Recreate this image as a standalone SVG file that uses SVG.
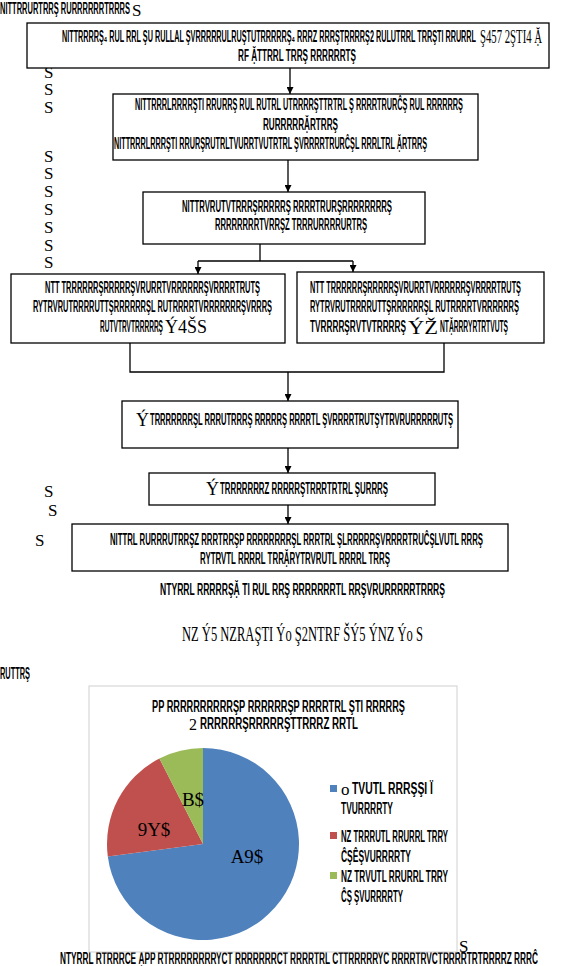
<svg xmlns="http://www.w3.org/2000/svg" width="568" height="966" viewBox="0 0 568 966">
<defs>
<style>
.t{font-family:"Liberation Sans Narrow","Liberation Sans",sans-serif;font-size:16px;font-weight:bold;fill:#000}
.s{font-family:"Liberation Serif",serif;font-size:18px;fill:#000}
.b{fill:#fff;stroke:#000;stroke-width:1.3}
.c{fill:none;stroke:#000;stroke-width:1.3}
.pm{font-family:"Liberation Serif",serif;font-size:17px;fill:#000}
</style>
<marker id="ah" viewBox="0 0 10 10" refX="10" refY="5" markerWidth="7" markerHeight="7" orient="auto" markerUnits="userSpaceOnUse">
<path d="M0,0 L10,5 L0,10 Z" fill="#000"/>
</marker>
</defs>
<rect width="568" height="966" fill="#fff"/>

<g id="heading">
<text class="t" x="0" y="14" textLength="130" lengthAdjust="spacingAndGlyphs">NITTRRURTRRŞ RURRRRRRTRRRS</text>
<text class="pm" x="132" y="16">S</text>
</g>

<g id="marks">
<text class="pm" x="44" y="78">S</text>
<text class="pm" x="44" y="95">S</text>
<text class="pm" x="44" y="113">S</text>
<text class="pm" x="44" y="162">S</text>
<text class="pm" x="44" y="179">S</text>
<text class="pm" x="44" y="197">S</text>
<text class="pm" x="44" y="215">S</text>
<text class="pm" x="44" y="233">S</text>
<text class="pm" x="44" y="251">S</text>
<text class="pm" x="44" y="268">S</text>
<text class="pm" x="44" y="497">S</text>
<text class="pm" x="48" y="516">S</text>
<text class="pm" x="35" y="546">S</text>
<text class="pm" x="459" y="952">S</text>
</g>

<g id="connectors">
<line class="c" x1="290" y1="68" x2="290" y2="94" marker-end="url(#ah)"/>
<line class="c" x1="288" y1="160" x2="288" y2="192" marker-end="url(#ah)"/>
<polyline class="c" points="260,244 260,261"/>
<polyline class="c" points="198,261 353,261"/>
<line class="c" x1="198" y1="261" x2="198" y2="274" marker-end="url(#ah)"/>
<line class="c" x1="353" y1="261" x2="353" y2="272" marker-end="url(#ah)"/>
<polyline class="c" points="130,343 130,372 444,372 444,343"/>
<line class="c" x1="288" y1="372" x2="288" y2="401" marker-end="url(#ah)"/>
<line class="c" x1="288" y1="448" x2="288" y2="473" marker-end="url(#ah)"/>
<line class="c" x1="288" y1="505" x2="288" y2="524" marker-end="url(#ah)"/>
</g>

<g id="box1">
<rect class="b" x="27" y="23" width="522" height="45"/>
<text class="t" x="62" y="42" textLength="414" lengthAdjust="spacingAndGlyphs">NITTRRRRŞ₄ RUL RRL ŞU RULLAL ŞVRRRRRULRUŞTUTRRRRRŞ₄ RRRZ RRRŞTRRRRŞ2 RULUTRRL TRRŞTI RRURRL</text>
<text class="s" x="480" y="43" textLength="62" lengthAdjust="spacingAndGlyphs">Ş457 2ŞTI4 Ặ</text>
<text class="t" x="238" y="61" textLength="118" lengthAdjust="spacingAndGlyphs">RF ẶTTRRL TRRŞ RRRRRRTŞ</text>
</g>

<g id="box2">
<rect class="b" x="113" y="94" width="365" height="66"/>
<text class="t" x="135" y="110" textLength="328" lengthAdjust="spacingAndGlyphs">NITTRRRLRRRRŞTI RRURRŞ RUL RUTRL UTRRRRŞTTRTRL Ş RRRRTRURĈŞ RUL RRRRRRŞ</text>
<text class="t" x="263" y="130" textLength="75" lengthAdjust="spacingAndGlyphs">RURRRRRẶRTRRŞ</text>
<text class="t" x="114" y="149" textLength="313" lengthAdjust="spacingAndGlyphs">NITTRRRLRRRŞTI RRURŞRUTRLTVURRTVUTRTRL ŞVRRRRTRURĈŞL RRRLTRL ẶRTRRŞ</text>
</g>

<g id="box3">
<rect class="b" x="143" y="192" width="282" height="52"/>
<text class="t" x="182" y="212" textLength="210" lengthAdjust="spacingAndGlyphs">NITTRVRUTVTRRRŞRRRRRŞ RRRRTRURŞRRRRRRRRŞ</text>
<text class="t" x="215" y="230" textLength="152" lengthAdjust="spacingAndGlyphs">RRRRRRRRTVRRŞZ TRRRURRRRURTRŞ</text>
</g>

<g id="box4a">
<rect class="b" x="11" y="274" width="274" height="69"/>
<text class="t" x="45" y="293" textLength="215" lengthAdjust="spacingAndGlyphs">NTT TRRRRRRŞRRRRRŞVRURRTVRRRRRRŞVRRRRTRUTŞ</text>
<text class="t" x="33" y="312" textLength="239" lengthAdjust="spacingAndGlyphs">RYTRVRUTRRRRUTTŞRRRRRRŞL RUTRRRRTVRRRRRRRŞVRRRŞ</text>
<text class="t" x="100" y="332" textLength="63" lengthAdjust="spacingAndGlyphs">RUTVTRVTRRRRRŞ</text>
<text class="s" x="165" y="333" textLength="42" lengthAdjust="spacingAndGlyphs">Ý4ŠS</text>
</g>

<g id="box4b">
<rect class="b" x="297" y="272" width="247" height="71"/>
<text class="t" x="310" y="293" textLength="211" lengthAdjust="spacingAndGlyphs">NTT TRRRRRRŞRRRRRŞVRURRTVRRRRRRŞVRRRRTRUTŞ</text>
<text class="t" x="310" y="312" textLength="209" lengthAdjust="spacingAndGlyphs">RYTRVRUTRRRRUTTŞRRRRRRŞL RUTRRRRTVRRRRRRŞ</text>
<text class="t" x="310" y="332" textLength="96" lengthAdjust="spacingAndGlyphs">TVRRRRŞRVTVTRRRRŞ</text>
<text class="s" x="408" y="334" textLength="30" lengthAdjust="spacingAndGlyphs">ÝŽ</text>
<text class="t" x="440" y="332" textLength="68" lengthAdjust="spacingAndGlyphs">NTẶRRRYRTRTVUTŞ</text>
</g>

<g id="box5">
<rect class="b" x="122" y="401" width="336" height="47"/>
<text class="s" x="136" y="426">Ý</text>
<text class="t" x="150" y="425" textLength="303" lengthAdjust="spacingAndGlyphs">TRRRRRRRŞL RRRUTRRRŞ RRRRRŞ RRRRTL ŞVRRRRTRUTŞYTRVRURRRRRUTŞ</text>
</g>

<g id="box6">
<rect class="b" x="149" y="473" width="286" height="32"/>
<text class="s" x="206" y="495">Ý</text>
<text class="t" x="220" y="494" textLength="168" lengthAdjust="spacingAndGlyphs">TRRRRRRRZ RRRRRŞTRRRTRTRL ŞURRRŞ</text>
</g>

<g id="box7">
<rect class="b" x="72" y="524" width="436" height="47"/>
<text class="t" x="110" y="545" textLength="373" lengthAdjust="spacingAndGlyphs">NITTRL RURRRUTRRŞZ RRRTRRŞP RRRRRRRRŞL RRRTRL ŞLRRRRRŞVRRRRTRUĈŞLVUTL RRRŞ</text>
<text class="t" x="200" y="564" textLength="190" lengthAdjust="spacingAndGlyphs">RYTRVTL RRRRL TRRẶRYTRVRUTL RRRRL TRRŞ</text>
</g>

<g id="notes">
<text class="t" x="160" y="595" textLength="285" lengthAdjust="spacingAndGlyphs">NTYRRL RRRRRŞẶ TI RUL RRŞ RRRRRRRTL RRŞVRURRRRRTRRRŞ</text>
<text class="s" x="182" y="641" textLength="241" lengthAdjust="spacingAndGlyphs" style="font-size:20px">NZ Ý5 NZRAŞTI Ýo Ş2NTRF ŠÝ5 ÝNZ Ýo S</text>
<text class="t" x="0" y="679" textLength="30" lengthAdjust="spacingAndGlyphs">RUTTRŞ</text>
<text class="t" x="60" y="964" textLength="478" lengthAdjust="spacingAndGlyphs">NTYRRL RTRRRĈÊ ẶPP RTRRRRRRRRYCT RRRRRRRCT RRRRTRL ĈTTRRRRRYĈ RRRRTRVCTRRRRTRTRRRRZ RRRĈ</text>
</g>

<g id="chart">
<rect x="89" y="686" width="368" height="266" fill="#fff" stroke="#d0d0d0" stroke-width="1"/>
<text class="t" x="152" y="712" textLength="253" lengthAdjust="spacingAndGlyphs">PP RRRRRRRRRRŞP RRRRRRŞP RRRRTRL ŞTI RRRRRŞ</text>
<text class="s" x="189" y="730" style="font-size:16px">2</text>
<text class="t" x="200" y="729" textLength="158" lengthAdjust="spacingAndGlyphs">RRRRRRŞRRRRRŞTTRRRZ RRTL</text>
<path d="M203,844 L203,748 A96,96 0 1 1 107.8,856.4 Z" fill="#4f81bd"/>
<path d="M203,844 L107.8,856.4 A96,96 0 0 1 159.4,758.5 Z" fill="#c0504d"/>
<path d="M203,844 L159.4,758.5 A96,96 0 0 1 203,748 Z" fill="#9bbb59"/>
<text class="s" x="193" y="806" text-anchor="middle" style="font-size:19px">B$</text>
<text class="s" x="154" y="836" text-anchor="middle" style="font-size:19px">9Y$</text>
<text class="s" x="247" y="863" text-anchor="middle" style="font-size:19px">A9$</text>
<rect x="330" y="785" width="7" height="7" fill="#4f81bd"/>
<text class="s" x="341" y="795" style="font-size:17px">o</text>
<text class="t" x="352" y="794" textLength="81" lengthAdjust="spacingAndGlyphs">TVUTL RRRŞŞI Ï</text>
<text class="t" x="341" y="814" textLength="52" lengthAdjust="spacingAndGlyphs">TVURRRRTY</text>
<rect x="330" y="832" width="7" height="7" fill="#c0504d"/>
<text class="t" x="341" y="842" textLength="107" lengthAdjust="spacingAndGlyphs">NZ TRRRUTL RRURRL TRRY</text>
<text class="t" x="341" y="862" textLength="70" lengthAdjust="spacingAndGlyphs">ĈŞÊŞVURRRRTY</text>
<rect x="330" y="872" width="7" height="7" fill="#9bbb59"/>
<text class="t" x="341" y="882" textLength="107" lengthAdjust="spacingAndGlyphs">NZ TRVUTL RRURRL TRRY</text>
<text class="t" x="341" y="902" textLength="62" lengthAdjust="spacingAndGlyphs">ĈŞ ŞVURRRRTY</text>
</g>
</svg>
